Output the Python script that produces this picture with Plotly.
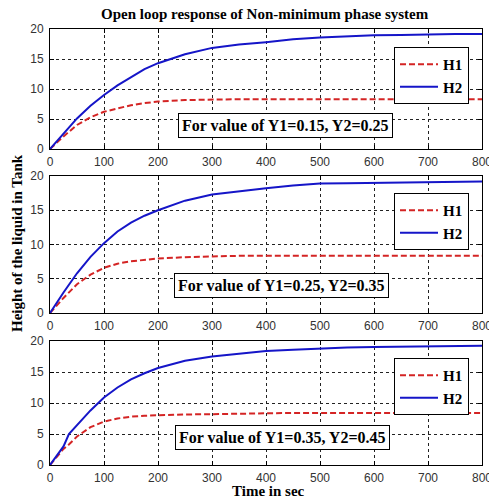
import plotly.graph_objects as go

# ---- data ----
t1 = [0, 25, 50, 75, 100, 125, 150, 175, 200, 250, 300, 350, 400, 450, 500, 550, 600, 650, 700, 750, 800]
h1_p1 = [0, 2.1, 4.0, 5.3, 6.2, 6.8, 7.3, 7.65, 7.9, 8.15, 8.25, 8.3, 8.3, 8.3, 8.3, 8.3, 8.3, 8.3, 8.3, 8.3, 8.3]
h2_p1 = [0, 2.6, 5.1, 7.2, 9.0, 10.6, 12.0, 13.3, 14.3, 15.8, 16.85, 17.4, 17.8, 18.3, 18.6, 18.8, 18.95, 19.0, 19.1, 19.15, 19.15]

t2 = [0, 25, 50, 75, 100, 125, 150, 175, 200, 250, 300, 350, 400, 450, 500, 550, 600, 650, 700, 750, 800]
h1_p2 = [0, 2.2, 4.2, 5.6, 6.6, 7.2, 7.55, 7.8, 7.95, 8.15, 8.3, 8.35, 8.35, 8.35, 8.35, 8.35, 8.35, 8.35, 8.35, 8.35, 8.35]
h2_p2 = [0, 3.0, 5.8, 8.2, 10.2, 11.9, 13.2, 14.2, 15.0, 16.4, 17.3, 17.8, 18.2, 18.6, 18.9, 18.95, 19.0, 19.05, 19.15, 19.2, 19.2]

t3 = [0, 25, 35, 50, 75, 100, 125, 150, 175, 200, 250, 300, 350, 400, 450, 500, 550, 600, 650, 700, 750, 800]
h1_p3 = [0, 2.6, 3.3, 4.6, 6.1, 7.0, 7.5, 7.8, 7.95, 8.05, 8.15, 8.2, 8.3, 8.35, 8.4, 8.4, 8.4, 8.4, 8.4, 8.4, 8.4, 8.4]
h2_p3 = [0, 3.0, 5.0, 6.4, 8.8, 10.9, 12.5, 13.8, 14.8, 15.65, 16.8, 17.5, 18.0, 18.4, 18.6, 18.8, 18.95, 19.05, 19.1, 19.2, 19.2, 19.25]

panel_labels = ["For value of Y1=0.15, Y2=0.25",
                "For value of Y1=0.25, Y2=0.35",
                "For value of Y1=0.35, Y2=0.45"]
x_ticks = [0, 100, 200, 300, 400, 500, 600, 700, 800]
y_ticks = [0, 5, 10, 15, 20]
title_text = "Open loop response of Non-minimum phase system"
x_title = "Time in sec"
y_title = "Height of the liquid in Tank"

RED = "#d42424"
BLUE = "#1515c8"
SERIF = "Liberation Serif, Times New Roman, serif"

W, H = 489, 499
ML, MR, MT, MB = 50, 7, 29, 34
PH = H - MT - MB

def fy(py):
    return (H - MB - py) / PH

def fx(px):
    return (px - ML) / (W - ML - MR)

panel_px = [(29, 149), (176, 313), (341, 465)]
legend_top_px = [47, 193, 358]
label_center_px = [(285, 125), (281, 285), (282, 437)]

fig = go.Figure()
data = [(t1, h1_p1, h2_p1), (t2, h1_p2, h2_p2), (t3, h1_p3, h2_p3)]
for i, (t, h1, h2) in enumerate(data):
    sfx = "" if i == 0 else str(i + 1)
    leg = "legend" + sfx
    fig.add_trace(go.Scatter(x=t, y=h1, mode="lines", name="H1",
                             line=dict(color=RED, width=2, dash="6px,3px"),
                             xaxis="x" + sfx, yaxis="y" + sfx, legend=leg))
    fig.add_trace(go.Scatter(x=t, y=h2, mode="lines", name="H2",
                             line=dict(color=BLUE, width=2),
                             xaxis="x" + sfx, yaxis="y" + sfx, legend=leg))

axis_common = dict(showline=True, linecolor="black", linewidth=1, mirror="ticks",
                   ticks="inside", ticklen=4, tickcolor="black",
                   showgrid=True, gridcolor="#222", gridwidth=1, griddash="dot",
                   zeroline=False, ticklabeloverflow="allow", automargin=False,
                   tickfont=dict(family="Arial, Liberation Sans, sans-serif", size=12, color="#333"))

layout = dict(width=W, height=H, margin=dict(l=ML, r=MR, t=MT, b=MB, autoexpand=False),
              template="none",
              plot_bgcolor="white", paper_bgcolor="white", annotations=[])
for i in range(3):
    sfx = "" if i == 0 else str(i + 1)
    top, bot = panel_px[i]
    layout["xaxis" + sfx] = dict(axis_common, range=[0, 800], tickvals=x_ticks,
                                 domain=[0, 1], anchor="y" + sfx, ticklabelstandoff=2)
    layout["yaxis" + sfx] = dict(axis_common, range=[0, 20], tickvals=y_ticks,
                                 domain=[fy(bot), fy(top)], anchor="x" + sfx, ticklabelstandoff=3)
    layout["legend" + sfx] = dict(x=fx(394), y=fy(legend_top_px[i]), xanchor="left", yanchor="top",
                                  bgcolor="white", bordercolor="black", borderwidth=1,
                                  font=dict(family=SERIF, size=15, color="black", weight="bold"),
                                  tracegroupgap=0, itemwidth=38)
    cx, cy = label_center_px[i]
    layout["annotations"].append(dict(
        text="<b>" + panel_labels[i] + "</b>", x=fx(cx), y=fy(cy), xref="paper", yref="paper",
        xanchor="center", yanchor="middle", showarrow=False,
        font=dict(family=SERIF, size=16, color="black"),
        bgcolor="white", bordercolor="black", borderwidth=1, borderpad=3))

layout["annotations"].append(dict(text="<b>" + title_text + "</b>", x=fx(265), y=fy(14),
                                  xref="paper", yref="paper", showarrow=False,
                                  xanchor="center", yanchor="middle",
                                  font=dict(family=SERIF, size=15, color="black")))
layout["annotations"].append(dict(text="<b>" + x_title + "</b>", x=fx(268), y=fy(491),
                                  xref="paper", yref="paper", showarrow=False,
                                  xanchor="center", yanchor="middle",
                                  font=dict(family=SERIF, size=15, color="black")))
layout["annotations"].append(dict(text="<b>" + y_title + "</b>", x=fx(17), y=fy(243),
                                  xref="paper", yref="paper", showarrow=False, textangle=-90,
                                  xanchor="center", yanchor="middle",
                                  font=dict(family=SERIF, size=15, color="black")))

fig.update_layout(**layout)
fig.write_html("out.html", config={"displayModeBar": False},
               post_script="document.body.style.margin='0';document.body.style.overflow='hidden';")
